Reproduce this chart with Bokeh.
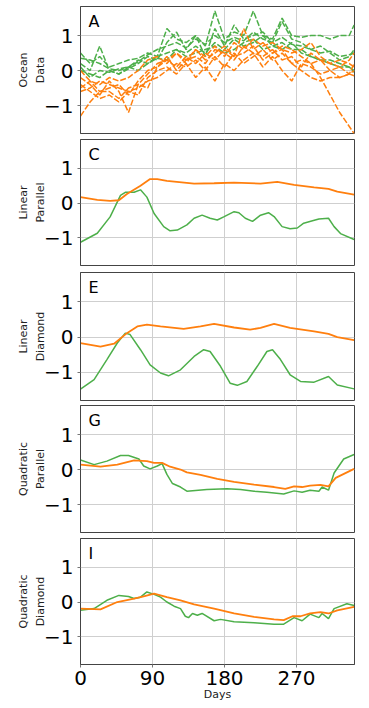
from bokeh.plotting import figure
from bokeh.layouts import column
from bokeh.models import Range1d, FixedTicker, Label
from bokeh.embed import file_html
from bokeh.resources import INLINE

GREEN = "#4daf4a"
ORANGE = "#ff7f0e"
FONT = "DejaVu Sans"

# ---- Panel A: ocean data (dashed, noisy) ----
days_a = [0, 12, 24, 36, 48, 60, 72, 84, 96, 108, 120, 132, 144, 156, 168, 180,
          192, 204, 216, 228, 240, 252, 264, 276, 288, 300, 312, 324, 336, 342]
ocean_green = [
    [0.35, 0.3, 0.2, 0.05, 0.0, 0.1, 0.25, 0.45, 0.6, 0.7, 0.8, 0.65, 0.9, 0.75, 1.0, 0.8, 0.95, 0.85, 1.1, 0.9, 0.8, 0.95, 0.75, 0.7, 0.6, 0.5, 0.55, 0.4, 0.45, 0.5],
    [0.5, 0.2, 0.4, 0.1, 0.2, 0.3, 0.35, 0.5, 0.4, 1.2, 0.9, 0.8, 1.0, 0.7, 1.7, 0.9, 1.1, 1.0, 1.7, 1.0, 0.9, 1.5, 1.0, 0.95, 1.0, 1.0, 0.9, 1.0, 1.0, 1.3],
    [0.0, -0.1, -0.2, 0.0, -0.1, 0.1, 0.3, 0.2, 0.4, 0.5, 0.6, 0.5, 0.7, 0.5, 0.8, 0.6, 0.9, 0.7, 0.8, 1.0, 0.7, 0.6, 0.8, 0.5, 0.4, 0.3, 0.3, 0.2, 0.1, 0.0],
    [0.2, 0.0, 0.7, 0.0, -0.1, 0.05, 0.2, 0.4, 0.3, 0.8, 1.1, 0.6, 1.0, 0.4, 1.2, 0.7, 1.3, 0.9, 1.0, 1.1, 0.8, 1.4, 0.9, 0.8, 0.6, 0.7, 0.5, 0.3, 0.4, 0.6],
    [0.1, -0.2, 0.0, -0.05, 0.05, 0.1, 0.0, 0.2, 0.35, 0.3, 0.6, 0.4, 0.5, 0.6, 0.7, 0.5, 0.6, 0.8, 0.9, 0.6, 0.7, 0.8, 0.6, 0.6, 0.4, 0.3, 0.2, 0.1, 0.1, -0.05],
]
ocean_orange = [
    [-1.3, -0.9, -0.6, -0.6, -0.8, -0.5, -0.4, -0.1, 0.2, 0.3, 0.1, 0.4, 0.2, 0.5, 0.3, 0.6, 0.4, 0.5, 0.7, 0.3, 0.5, 0.6, 0.2, 0.3, 0.2, -0.2, -0.7, -1.2, -1.6, -1.8],
    [-0.6, -0.5, -0.3, -0.4, -0.5, -0.6, -0.5, -0.3, -0.2, 0.0, 0.2, 0.1, 0.3, 0.0, 0.4, 0.1, 0.5, 0.2, 0.4, 0.6, 0.3, 0.5, 0.2, 0.0, -0.2, -0.3, -0.2, -0.2, -0.1, -0.15],
    [-0.2, -0.4, -0.7, -0.3, -0.6, -1.2, -0.4, -0.5, 0.1, 0.3, 0.5, 0.2, 0.6, 0.3, 0.5, 0.7, 0.4, 1.2, 0.6, 0.8, 0.5, 0.7, 0.6, 0.4, 0.2, 0.3, 0.2, 0.1, 0.3, 0.5],
    [-0.4, -0.6, -0.8, -0.7, -0.9, -0.6, -0.7, -0.2, 0.0, 0.1, -0.1, 0.2, -0.2, 0.1, -0.3, 0.2, 0.0, 0.3, 0.5, 0.1, 0.4, 0.0, -0.3, 0.2, 0.1, -0.1, 0.0, -0.2, -0.1, 0.0],
    [0.0, -0.3, -0.4, -0.2, -0.3, -0.2, 0.0, 0.3, 0.4, 0.2, 0.5, 0.3, 0.6, 0.4, 0.7, 0.4, 0.8, 0.6, 0.9, 0.7, 0.8, 0.6, 0.5, 0.6, 0.8, 0.4, 0.2, 0.3, 0.2, 0.1],
    [-0.5, -0.3, -0.6, -0.5, -0.4, -0.7, -0.3, 0.0, 0.1, 0.4, 0.0, 0.3, 0.4, 0.2, 0.6, 0.5, 0.3, 0.7, 0.5, 0.4, 0.6, 0.3, 0.4, 0.1, 0.5, 0.3, 0.0, 0.1, -0.1, 0.2],
]

# ---- Panel C: Linear Parallel ----
c_green_x = [0, 21, 37, 50, 56, 67, 75, 83, 92, 104, 112, 121, 133, 142, 152, 162, 171, 179, 192, 198, 206, 215, 225, 235, 242, 252, 262, 271, 279, 290, 298, 310, 317, 325, 342]
c_green_y = [-1.13, -0.87, -0.4, 0.22, 0.31, 0.31, 0.38, 0.17, -0.3, -0.68, -0.8, -0.78, -0.63, -0.44, -0.35, -0.44, -0.49, -0.4, -0.25, -0.28, -0.44, -0.53, -0.35, -0.28, -0.39, -0.68, -0.74, -0.72, -0.58, -0.51, -0.46, -0.44, -0.68, -0.88, -1.05]
c_orange_x = [0, 21, 37, 48, 58, 75, 87, 96, 108, 142, 167, 192, 225, 246, 267, 292, 310, 321, 342]
c_orange_y = [0.17, 0.09, 0.06, 0.08, 0.26, 0.5, 0.69, 0.69, 0.64, 0.56, 0.57, 0.59, 0.56, 0.61, 0.52, 0.45, 0.41, 0.33, 0.24]

# ---- Panel E: Linear Diamond ----
e_green_x = [0, 17, 33, 46, 56, 62, 75, 87, 100, 110, 125, 142, 154, 162, 175, 187, 196, 208, 221, 233, 240, 250, 262, 275, 292, 310, 321, 342]
e_green_y = [-1.48, -1.21, -0.64, -0.17, 0.11, 0.07, -0.36, -0.79, -1.02, -1.1, -0.93, -0.55, -0.36, -0.41, -0.83, -1.31, -1.37, -1.26, -0.83, -0.41, -0.36, -0.64, -1.07, -1.26, -1.28, -1.12, -1.36, -1.47]
e_orange_x = [0, 25, 42, 58, 71, 83, 100, 129, 150, 167, 192, 212, 225, 242, 262, 292, 310, 321, 342]
e_orange_y = [-0.17, -0.27, -0.19, 0.11, 0.3, 0.35, 0.3, 0.23, 0.3, 0.37, 0.27, 0.21, 0.26, 0.37, 0.26, 0.16, 0.09, 0.0, -0.09]

# ---- Panel G: Quadratic Parallel ----
g_green_x = [0, 17, 33, 50, 60, 73, 79, 87, 96, 102, 108, 115, 125, 133, 158, 183, 200, 217, 233, 254, 267, 277, 287, 298, 302, 310, 317, 329, 342]
g_green_y = [0.27, 0.14, 0.24, 0.4, 0.4, 0.3, 0.1, 0.02, 0.1, 0.17, -0.14, -0.4, -0.5, -0.62, -0.57, -0.55, -0.57, -0.62, -0.65, -0.7, -0.61, -0.65, -0.59, -0.62, -0.5, -0.59, -0.1, 0.3, 0.43]
g_orange_x = [0, 25, 46, 67, 83, 92, 102, 112, 125, 133, 150, 171, 192, 217, 242, 256, 267, 277, 287, 300, 310, 319, 342]
g_orange_y = [0.14, 0.08, 0.14, 0.26, 0.24, 0.19, 0.19, 0.08, 0.0, -0.08, -0.15, -0.27, -0.35, -0.43, -0.5, -0.55, -0.48, -0.5, -0.46, -0.44, -0.48, -0.24, 0.02]

# ---- Panel I: Quadratic Diamond ----
i_green_x = [0, 17, 33, 48, 60, 67, 75, 83, 92, 100, 108, 117, 125, 131, 135, 140, 146, 152, 167, 175, 192, 217, 242, 254, 267, 277, 287, 298, 302, 310, 317, 333, 342]
i_green_y = [-0.24, -0.19, 0.05, 0.19, 0.16, 0.1, 0.14, 0.29, 0.22, 0.14, 0.0, -0.12, -0.19, -0.41, -0.45, -0.33, -0.38, -0.33, -0.54, -0.5, -0.57, -0.6, -0.64, -0.64, -0.45, -0.54, -0.35, -0.45, -0.33, -0.48, -0.19, -0.05, -0.1]
i_orange_x = [0, 25, 46, 67, 79, 92, 108, 125, 142, 167, 192, 217, 242, 254, 265, 275, 287, 300, 310, 321, 342]
i_orange_y = [-0.19, -0.21, 0.0, 0.1, 0.16, 0.24, 0.14, 0.05, -0.07, -0.19, -0.33, -0.43, -0.5, -0.52, -0.41, -0.41, -0.33, -0.29, -0.33, -0.24, -0.14]

panel_letters = ["A", "C", "E", "G", "I"]
panel_ylabels = ["Ocean\nData", "Linear\nParallel", "Linear\nDiamond", "Quadratic\nParallel", "Quadratic\nDiamond"]
x_ticks = [0, 90, 180, 270, 360]
y_ticks = [-1, 0, 1]

X_MAX = 342.5
Y_LO, Y_HI = -1.8, 1.83

fig_heights = [136, 132, 134, 133, 171]
tops = [6, 3, 4, 3, 3]
bottoms = [3, 3, 2, 3, 42]


def make_panel(i, last):
    p = figure(width=355, height=fig_heights[i],
               x_range=Range1d(0, X_MAX), y_range=Range1d(Y_LO, Y_HI),
               output_backend="svg", toolbar_location=None,
               min_border_left=80, min_border_right=1,
               min_border_top=tops[i], min_border_bottom=bottoms[i])
    p.outline_line_color = "#444444"
    p.outline_line_width = 1
    p.background_fill_color = "white"
    p.border_fill_color = "white"

    p.yaxis.ticker = FixedTicker(ticks=y_ticks)
    p.yaxis.major_label_overrides = {-1: "\u22121", 0: "0", 1: "1"}
    p.yaxis.major_label_text_font = FONT
    p.yaxis.major_label_text_font_size = "20px"
    p.yaxis.major_label_text_color = "black"
    p.yaxis.minor_tick_line_color = None
    p.yaxis.major_tick_out = 3
    p.yaxis.major_tick_in = 0
    p.yaxis.major_tick_line_color = "#777777"
    p.yaxis.major_label_standoff = 4
    p.yaxis.axis_line_color = "#444444"
    p.yaxis.axis_label = panel_ylabels[i]
    p.yaxis.axis_label_text_font = FONT
    p.yaxis.axis_label_text_font_size = "11px"
    p.yaxis.axis_label_text_font_style = "normal"
    p.yaxis.axis_label_text_color = "#222222"
    p.yaxis.axis_label_text_line_height = 1.3
    p.yaxis.axis_label_standoff = -6

    p.xaxis.ticker = FixedTicker(ticks=x_ticks)
    p.xgrid.ticker = FixedTicker(ticks=x_ticks)
    p.ygrid.ticker = FixedTicker(ticks=y_ticks)
    p.xgrid.grid_line_color = "#cfcfcf"
    p.ygrid.grid_line_color = "#cfcfcf"
    p.xgrid.grid_line_width = 1
    p.ygrid.grid_line_width = 1

    if last:
        p.xaxis.minor_tick_line_color = None
        p.xaxis.major_tick_out = 3
        p.xaxis.major_tick_in = 0
        p.xaxis.major_tick_line_color = "#777777"
        p.xaxis.axis_line_color = "#444444"
        p.xaxis.major_label_text_font = FONT
        p.xaxis.major_label_text_font_size = "20px"
        p.xaxis.major_label_text_color = "black"
        p.xaxis.major_label_standoff = 3
        p.xaxis.axis_label = "Days"
        p.xaxis.axis_label_text_font = FONT
        p.xaxis.axis_label_text_font_size = "11px"
        p.xaxis.axis_label_text_font_style = "normal"
        p.xaxis.axis_label_text_color = "#222222"
        p.xaxis.axis_label_standoff = 0
    else:
        p.xaxis.visible = False

    p.add_layout(Label(x=10, y=1.68, text=panel_letters[i], text_font=FONT,
                       text_font_size="16px", text_baseline="top",
                       text_color="black"))
    return p


panels = []
# Panel A
p = make_panel(0, False)
for ys in ocean_green:
    p.line(days_a, ys, line_color=GREEN, line_width=1.5, line_dash="6 2")
for ys in ocean_orange:
    p.line(days_a, ys, line_color=ORANGE, line_width=1.5, line_dash="6 2")
panels.append(p)

series = [
    (c_green_x, c_green_y, c_orange_x, c_orange_y),
    (e_green_x, e_green_y, e_orange_x, e_orange_y),
    (g_green_x, g_green_y, g_orange_x, g_orange_y),
    (i_green_x, i_green_y, i_orange_x, i_orange_y),
]
for k, (gx, gy, ox, oy) in enumerate(series):
    p = make_panel(k + 1, k == 3)
    p.line(gx, gy, line_color=GREEN, line_width=1.5)
    p.line(ox, oy, line_color=ORANGE, line_width=1.8)
    panels.append(p)

layout = column(*panels, spacing=0)
open("out.html", "w").write(file_html(layout, INLINE))
